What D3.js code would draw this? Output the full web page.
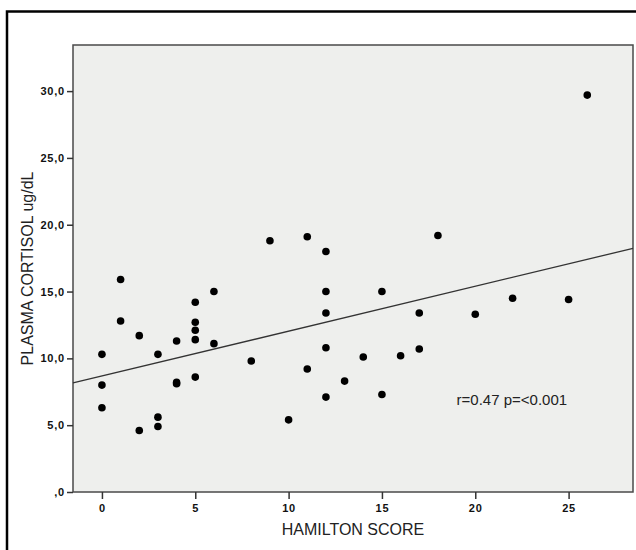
<!DOCTYPE html>
<html>
<head>
<meta charset="utf-8">
<script src="https://cdn.jsdelivr.net/npm/d3@7"></script>
<style>
  html, body { margin: 0; padding: 0; background: #fff; }
  svg { display: block; font-family: "Liberation Sans", Arial, sans-serif; }
</style>
</head>
<body>
<div id="chart"></div>
<script>
// Hamilton score vs plasma cortisol
const hamilton = [
  0, 0, 0, 1, 1, 2, 2, 3, 3, 3, 4, 4, 4,
  5, 5, 5, 5, 5, 6, 6, 8, 9, 10, 11, 11,
  12, 12, 12, 12, 12, 13, 14, 15, 15, 16, 17, 17,
  18, 20, 22, 25, 26
];
const cortisol = [
  10.3, 8.0, 6.3, 15.9, 12.8, 11.7, 4.6, 10.3, 5.6, 4.9, 11.3, 8.2, 8.1,
  14.2, 12.7, 12.1, 11.4, 8.6, 15.0, 11.1, 9.8, 18.8, 5.4, 19.1, 9.2,
  18.0, 15.0, 13.4, 10.8, 7.1, 8.3, 10.1, 15.0, 7.3, 10.2, 13.4, 10.7,
  19.2, 13.3, 14.5, 14.4, 29.7
];
const xTicks = [0, 5, 10, 15, 20, 25];
const yTicks = [0, 5, 10, 15, 20, 25, 30];
const yTickLabels = [',0', '5,0', '10,0', '15,0', '20,0', '25,0', '30,0'];
const statsNote = 'r=0.47 p=<0.001';

const width = 636, height = 550;
const plot = { left: 73, right: 633, top: 45, bottom: 492 };

const svg = d3.select('#chart').append('svg')
  .attr('width', width)
  .attr('height', height);

// outer frame (cropped on the right and bottom)
svg.append('rect')
  .attr('x', 7).attr('y', 11.5)
  .attr('width', 700).attr('height', 600)
  .attr('fill', 'none')
  .attr('stroke', '#000')
  .attr('stroke-width', 2.5);

const x = d3.scaleLinear().domain([-1.55, 28.45]).range([plot.left, plot.right]);
const y = d3.scaleLinear().domain([0, 33.45]).range([plot.bottom, plot.top]);

// plot background
svg.append('rect')
  .attr('x', plot.left).attr('y', plot.top)
  .attr('width', plot.right - plot.left)
  .attr('height', plot.bottom - plot.top)
  .attr('fill', '#eeefed')
  .attr('stroke', '#4a4a4a')
  .attr('stroke-width', 1.5);

// axes
const xAxis = svg.append('g')
  .attr('transform', `translate(0,${plot.bottom})`)
  .call(d3.axisBottom(x).tickValues(xTicks).tickSize(7).tickPadding(5).tickFormat(d3.format('d')));

const yAxis = svg.append('g')
  .attr('transform', `translate(${plot.left},0)`)
  .call(d3.axisLeft(y).tickValues(yTicks).tickSize(6).tickPadding(2)
    .tickFormat((d, i) => yTickLabels[i]));

[xAxis, yAxis].forEach(ax => {
  ax.select('.domain').remove();
  ax.selectAll('.tick line').attr('stroke', '#333').attr('stroke-width', 1.5);
  ax.selectAll('.tick text')
    .attr('fill', '#111')
    .style('font-family', '"Liberation Sans", Arial, sans-serif')
    .style('font-size', '11px')
    .style('font-weight', 'bold')
    .style('letter-spacing', '0.8px');
});

// regression line (least squares from the points)
const mx = d3.mean(hamilton), my = d3.mean(cortisol);
const sxy = d3.sum(hamilton, (h, i) => (h - mx) * (cortisol[i] - my));
const sxx = d3.sum(hamilton, h => (h - mx) * (h - mx));
const slope = sxy / sxx;
const intercept = my - slope * mx;
const [x0, x1] = x.domain();

svg.append('line')
  .attr('x1', x(x0)).attr('y1', y(intercept + slope * x0))
  .attr('x2', x(x1)).attr('y2', y(intercept + slope * x1))
  .attr('stroke', '#333')
  .attr('stroke-width', 1.3);

// points
svg.append('g')
  .selectAll('circle')
  .data(hamilton.map((h, i) => [h, cortisol[i]]))
  .join('circle')
  .attr('cx', d => x(d[0]))
  .attr('cy', d => y(d[1]))
  .attr('r', 3.8)
  .attr('fill', '#000');

// annotation
svg.append('text')
  .attr('x', x(19))
  .attr('y', y(6.5))
  .attr('fill', '#222')
  .style('font-size', '15px')
  .text(statsNote);

// axis titles
svg.append('text')
  .attr('x', (plot.left + plot.right) / 2)
  .attr('y', 535)
  .attr('text-anchor', 'middle')
  .attr('fill', '#222')
  .style('font-size', '16px')
  .text('HAMILTON SCORE');

svg.append('text')
  .attr('transform', `translate(33,${(plot.top + plot.bottom) / 2}) rotate(-90)`)
  .attr('text-anchor', 'middle')
  .attr('fill', '#222')
  .style('font-size', '16px')
  .text('PLASMA CORTISOL ug/dL');
</script>
</body>
</html>
